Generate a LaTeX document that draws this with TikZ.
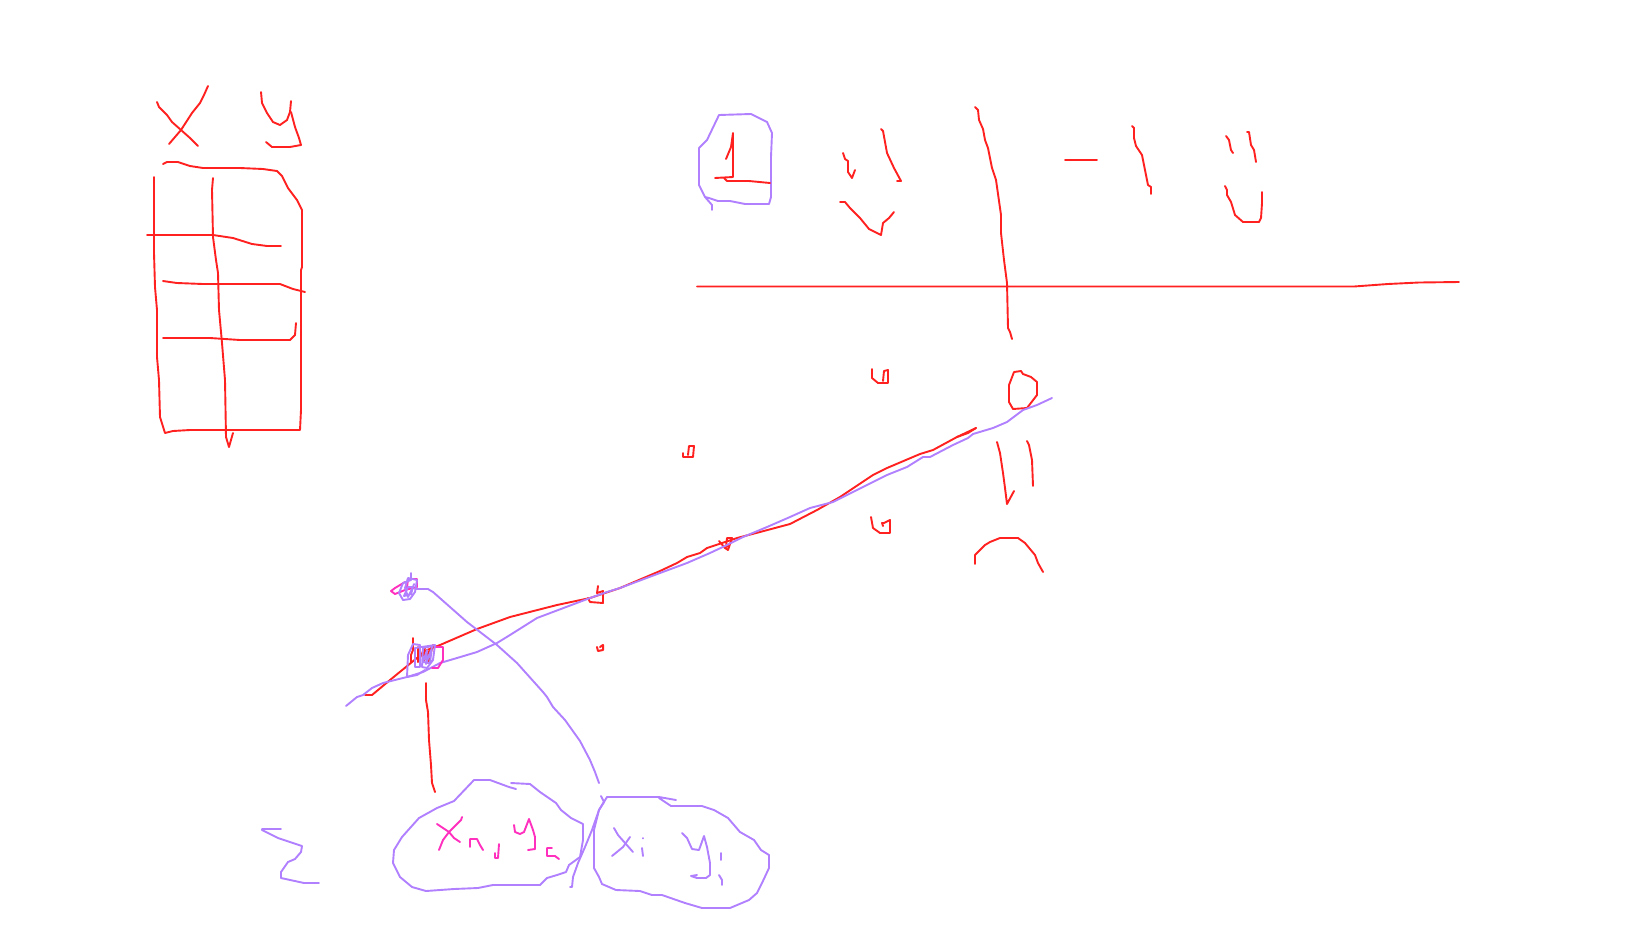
\documentclass[tikz,border=0pt]{standalone}
\definecolor{RedClr}{RGB}{255,32,32}
\definecolor{PurpleClr}{RGB}{176,128,255}
\definecolor{PinkClr}{RGB}{255,48,190}
\tikzset{
  redInk/.style={draw=RedClr,line width=1.9pt,line join=round,line cap=round},
  purpleInk/.style={draw=PurpleClr,line width=1.9pt,line join=round,line cap=round},
  pinkInk/.style={draw=PinkClr,line width=1.9pt,line join=round,line cap=round}
}
\begin{document}
\begin{tikzpicture}[x=1pt,y=-1pt]
\useasboundingbox (0,0) rectangle (1648,927);

% table head
\draw[redInk] plot coordinates {(157,102)(159,107)(167,115)(172,122)(181,130)(190,138)(198,146)};
\draw[redInk] plot coordinates {(169,144)(175,137)(181,130)(192,113)(200,103)(204,95)(208,86)};
\draw[redInk] plot coordinates {(261,92)(262,103)(267,113)(273,122)(280,125)(287,120)(290,112)(291,101)};
\draw[redInk] plot coordinates {(291,112)(295,127)(299,138)(301,145)(290,147)(272,147)(266,142)};

% table
\draw[redInk] plot coordinates {(163,164)(167,162)(178,162)(190,166)(203,168)(240,168)(263,169)(277,171)(282,176)(288,188)(297,200)(302,210)(302,267)(301,270)(301,410)(300,430)(190,430)(173,431)(165,433)(160,417)(159,380)(157,357)(157,310)(155,287)(154,253)(154,177)};
\draw[redInk] plot coordinates {(213,178)(212,190)(213,237)(216,260)(218,273)(219,310)(222,343)(225,380)(226,437)(229,447)(233,433)};
\draw[redInk] plot coordinates {(147,235)(213,235)(233,238)(252,244)(267,246)(281,246)};
\draw[redInk] plot coordinates {(163,281)(177,283)(203,284)(280,284)(293,289)(305,292)};
\draw[redInk] plot coordinates {(163,338)(210,338)(240,340)(290,340)(295,335)(296,323)};

% formula
\draw[purpleInk] plot coordinates {(712,210)(712,205)(705,197)(699,185)(699,148)(707,140)(719,115)(751,114)(767,122)(772,133)(771,157)(771,197)(769,204)(745,204)(730,201)(718,201)(709,198)(705,197)};
\draw[redInk] plot coordinates {(726,159)(731,147)(733,133)(733,177)(715,178)};
\draw[redInk] plot coordinates {(724,178)(727,181)(749,181)(770,183)};
\draw[redInk] plot coordinates {(843,153)(845,159)(848,161)(848,172)(852,178)(855,170)};
\draw[redInk] plot coordinates {(881,129)(883,131)(887,153)(894,168)(901,181)(897,181)};
\draw[redInk] plot coordinates {(840,202)(845,202)(850,208)(860,218)(869,229)(881,235)(883,223)(889,218)(894,212)};
\draw[redInk] plot coordinates {(975,107)(978,110)(979,120)(983,129)(985,140)(988,148)(992,168)(996,180)(1001,215)(1001,233)(1004,260)(1007,283)(1008,328)(1010,332)(1012,339)};
\draw[redInk] plot coordinates {(1065,160)(1097,160)};
\draw[redInk] plot coordinates {(1132,126)(1134,128)(1134,138)(1136,146)(1142,155)(1147,180)(1148,185)(1151,187)(1151,194)};
\draw[redInk] plot coordinates {(1226,136)(1229,140)(1231,150)(1233,153)};
\draw[redInk] plot coordinates {(1247,132)(1249,132)(1251,145)(1254,150)(1256,162)};
\draw[redInk] plot coordinates {(1225,186)(1227,190)(1227,195)(1231,202)(1235,215)(1243,222)(1259,222)(1261,218)(1262,203)(1262,192)};
\draw[redInk] plot coordinates {(697,286.5)(1354,286.5)(1388,284)(1419,282.5)(1459,282)};

% right marks
\draw[redInk] plot coordinates {(1014,372)(1021,371)(1023,374)(1031,377)(1037,382)(1037,395)(1027,408)(1013,409)(1009,402)(1009,385)(1014,372)};
\draw[redInk] plot coordinates {(997,442)(1000,453)(1003,473)(1005,488)(1007,504)(1014,491)};
\draw[redInk] plot coordinates {(1027,441)(1029,445)(1032,460)(1033,486)};
\draw[redInk] plot coordinates {(975,564)(975,555)(985,545)(990,542)(1000,538)(1018,538)(1025,543)(1035,555)(1038,563)(1043,572)};

% data points
\draw[redInk] plot coordinates {(872,369)(872,378)(878,383)(888,383)(888,370)(884,371)(883,381)};
\draw[redInk] plot coordinates {(683,453)(683,457)(693,457)(694,446)(689,446)(688,455)};
\draw[redInk] plot coordinates {(871,517)(873,528)(880,533)(890,533)(890,520)(884,523)(882,523)(883,526)};
\draw[redInk] plot coordinates {(719,541)(725,548)(728,550)(732,538)(727,538)(726,547)(730,545)};
\draw[redInk] plot coordinates {(598,586)(597,593)(603,591)(603,603)(590,602)(588,598)};
\draw[redInk,line width=2pt] plot coordinates {(597,647)(598,651)(603,650)(603,645)(600,647)};

% fitted lines
\draw[redInk] plot coordinates {(976,428)(957,437)(933,450)(920,454)(887,468)(873,475)(840,497)(817,510)(790,524)(760,532)(737,538)(707,548)(700,553)(687,557)(677,563)(660,571)(620,588)(590,598)(557,605)(510,617)(477,629)(440,645)(427,650)(412,662)(390,680)(378,690)(372,695)(365,695)};
\draw[redInk] plot coordinates {(957,437)(968,433)(976,428)};
\draw[purpleInk] plot coordinates {(1052,398)(1037,405)(1023,410)(1007,422)(993,428)(973,434)(968,438)(953,445)(930,457)(923,457)(907,467)(887,475)(873,482)(853,492)(833,502)(810,508)(790,517)(767,527)(743,537)(727,545)(710,553)(687,563)(660,573)(620,588)(607,592)(590,598)(537,618)(510,635)(497,643)(477,652)(457,658)(440,663)(423,672)(407,677)(383,683)(372,688)(363,695)(357,697)(346,706)};

% scribble at the far point
\draw[pinkInk] plot coordinates {(405,582)(395,588)(391,591)(395,594)(405,590)(417,587)(417,579)(408,579)(407,588)};
\draw[purpleInk] plot coordinates {(411,573)(411,580)(403,583)(399,593)(403,600)(410,599)(415,592)(417,580)(408,578)(405,588)(408,597)(413,587)(408,587)(404,596)(411,594)(414,584)};
\draw[purpleInk] plot coordinates {(415,589)(428,589)(433,592)(467,622)(497,645)(517,663)(543,692)(547,697)(553,707)(565,720)(580,741)(590,760)(595,772)(599,783)};

% scribble at the near point
\draw[redInk] plot coordinates {(413,638)(413,650)(411,655)(411,662)};
\draw[redInk] plot coordinates {(418,647)(418,662)(425,647)(423,662)(433,645)(428,663)};
\draw[pinkInk] plot coordinates {(435,647)(443,647)(443,660)(438,668)(432,668)};
\draw[purpleInk] plot coordinates {(407,677)(408,655)(413,644)(420,645)(420,667)(415,667)(415,648)(435,645)(433,660)(427,668)(422,667)(423,648)(432,646)(430,663)(423,662)(427,650)(426,664)(431,650)};
\draw[purpleInk] plot coordinates {(407,677)(417,675)(425,670)};
\draw[redInk] plot coordinates {(426,683)(426,700)(428,712)(429,740)(431,765)(432,783)(435,792)};

% sum sign and the two points
\draw[purpleInk] plot coordinates {(281,829)(262,829)(262,830)(278,838)(302,846)(301,852)(295,859)(288,862)(281,872)(281,878)(304,883)(319,883)};
\draw[purpleInk] plot coordinates {(516,789)(509,787)(490,780)(474,780)(454,801)(437,808)(419,818)(402,837)(394,850)(393,863)(400,877)(412,887)(426,891)(454,889)(478,888)(493,885)(540,885)(547,878)(557,875)(566,872)(569,865)(580,857)(583,840)(583,824)(571,818)(561,810)(556,803)(540,792)(530,784)(511,783)};
\draw[purpleInk] plot coordinates {(676,800)(659,797)(607,797)(599,810)(594,830)(594,868)(599,877)(602,884)(616,890)(640,891)(652,895)(662,895)(685,903)(702,908)(730,908)(749,900)(757,893)(762,883)(769,868)(769,855)(761,850)(754,840)(740,832)(728,818)(714,810)(702,806)(671,806)(659,798)};
\draw[purpleInk] plot coordinates {(601,796)(604,802)(599,810)(592,830)(585,847)(578,863)(573,877)(572,887)(570,887)};

% x_n y_n
\draw[pinkInk] plot coordinates {(437,824)(449,832)(454,838)(460,842)};
\draw[pinkInk] plot coordinates {(462,817)(461,820)(449,832)(443,840)(439,850)};
\draw[pinkInk] plot coordinates {(470,847)(470,839)(477,839)(480,845)(483,850)};
\draw[pinkInk] plot coordinates {(499,844)(498,858)(495,858)(495,853)};
\draw[pinkInk] plot coordinates {(514,825)(515,832)(520,834)(524,832)(529,819)(533,830)(535,837)(535,849)(528,850)};
\draw[pinkInk] plot coordinates {(552,848)(547,848)(547,856)(555,856)(559,859)};

% x_i y_i
\draw[purpleInk] plot coordinates {(614,828)(618,835)(633,852)};
\draw[purpleInk] plot coordinates {(630,837)(623,847)(612,856)};
\draw[purpleInk] plot coordinates {(643,838)(643,838.5)};
\draw[purpleInk] plot coordinates {(642,848)(643,856)};
\draw[purpleInk] plot coordinates {(682,833)(687,838)(692,849)(699,850)(704,836)(707,847)(710,863)(710,875)(706,878)(697,878)(691,876)(697,875)};
\draw[purpleInk] plot coordinates {(721,853)(721,860)};
\draw[purpleInk] plot coordinates {(719,875)(722,880)(722,885)};

\end{tikzpicture}
\end{document}
